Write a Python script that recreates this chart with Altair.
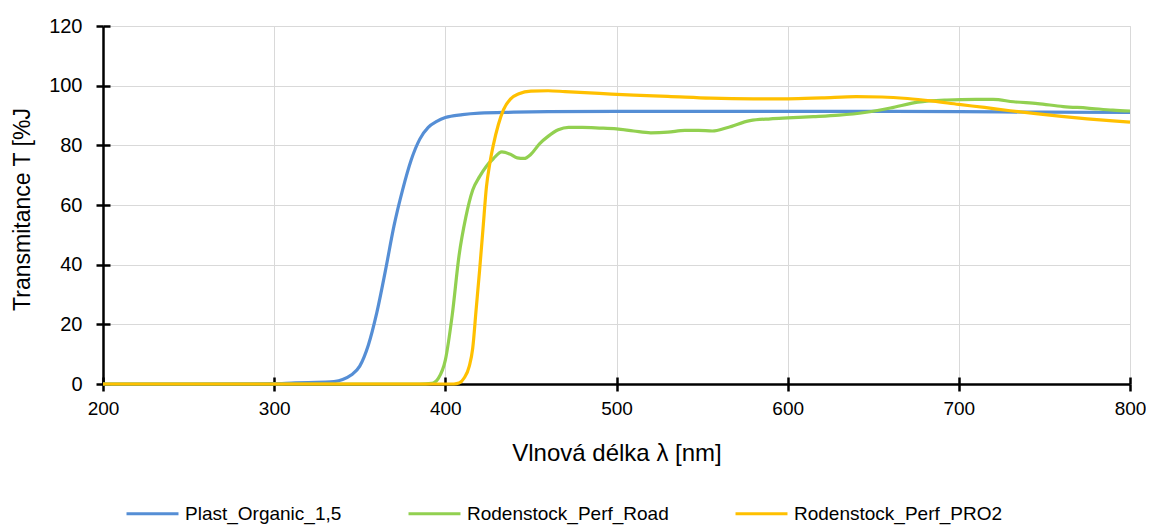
import altair as alt
import pandas as pd

series_names = ["Plast_Organic_1,5", "Rodenstock_Perf_Road", "Rodenstock_Perf_PRO2"]
series_colors = ["#558ED5", "#92D050", "#FFC000"]

blue_wl = [200, 250, 300, 310, 320, 330, 335, 340, 345, 350, 355, 360, 365, 370, 375, 380,
           385, 390, 395, 400, 410, 420, 440, 460, 500, 550, 600, 650, 700, 750, 800]
blue_T = [0, 0, 0.1, 0.3, 0.5, 0.6, 0.8, 1.5, 3, 6, 13, 24, 38, 53, 65, 75,
          82, 86, 88, 89.3, 90.3, 90.8, 91.1, 91.3, 91.4, 91.4, 91.4, 91.4, 91.3, 91.1, 91.0]

green_wl = [200, 300, 385, 392, 396, 400, 404, 408, 412, 416, 420, 424, 428, 433, 438, 442,
            446, 450, 455, 460, 466, 472, 480, 490, 500, 510, 520, 530, 540, 548, 556, 565,
            578, 590, 600, 615, 630, 645, 660, 676, 693, 710, 720, 732, 746, 761, 775, 790, 800]
green_T = [0, 0, 0, 0.2, 2, 8, 23, 43, 56, 65, 69.5, 73, 75.5, 77.8, 77, 75.8,
           75.6, 77, 80.5, 83, 85.2, 86, 86, 85.8, 85.5, 84.8, 84.2, 84.4, 85, 85, 84.8, 86,
           88.3, 88.9, 89.2, 89.6, 90.1, 91, 92.5, 94.5, 95.2, 95.4, 95.4, 94.6, 94, 93, 92.5, 91.8, 91.5]

yellow_wl = [200, 300, 400, 405, 408, 411, 414, 416, 418, 420, 422, 424, 426, 428, 431, 434,
             438, 443, 450, 460, 470, 490, 510, 530, 555, 580, 600, 620, 640, 655, 670, 685,
             700, 715, 730, 745, 760, 775, 790, 800]
yellow_T = [0, 0, 0, 0, 0.3, 2, 6, 12, 25, 38, 52, 66, 74, 80, 87, 92,
            95.5, 97.3, 98.2, 98.3, 98, 97.4, 96.8, 96.4, 95.8, 95.6, 95.6, 95.9, 96.3, 96.2, 95.7, 94.8,
            93.7, 92.7, 91.6, 90.6, 89.7, 88.9, 88.2, 87.8]

x_ticks = [200, 300, 400, 500, 600, 700, 800]
y_ticks = [0, 20, 40, 60, 80, 100, 120]

rows = []
for order, (name, wls, ts) in enumerate(zip(series_names,
                                            [blue_wl, green_wl, yellow_wl],
                                            [blue_T, green_T, yellow_T])):
    for w, t in zip(wls, ts):
        rows.append({"wl": w, "T": t, "series": name, "ord": order})
df = pd.DataFrame(rows)

FONT = "Liberation Sans"
W, H = 1027, 358

xscale = alt.Scale(domain=[200, 800], nice=False, zero=False)
yscale = alt.Scale(domain=[0, 120], nice=False)

lines = alt.Chart(df).mark_line(strokeWidth=3.2, interpolate="monotone").encode(
    x=alt.X("wl:Q", scale=xscale,
            axis=alt.Axis(values=x_ticks, title="Vlnová délka λ [nm]", grid=True,
                          gridColor="#d9d9d9", gridWidth=1, domainColor="black", domainWidth=2.5,
                          tickColor="black", tickWidth=2.5, tickSize=7, labelPadding=8,
                          labelFlush=False,
                          labelFontSize=19, labelFont=FONT, labelColor="black",
                          titleFont=FONT, titleFontSize=24, titleFontWeight="normal",
                          titleColor="black", titleX=W / 2, titleY=69, titleBaseline="middle",
                          zindex=0)),
    y=alt.Y("T:Q", scale=yscale,
            axis=alt.Axis(values=y_ticks, title="Transmitance T [%J", grid=True,
                          gridColor="#d9d9d9", gridWidth=1, domainColor="black", domainWidth=2.5,
                          tickColor="black", tickWidth=2.5, tickSize=7, labelPadding=14,
                          labelFontSize=20, labelFont=FONT, labelColor="black",
                          titleFont=FONT, titleFontSize=23, titleFontWeight="normal",
                          titleColor="black", titleX=-81, titleY=H / 2 + 4, titleAngle=-90,
                          titleAlign="center", titleBaseline="middle", zindex=0)),
    color=alt.Color("series:N",
                    scale=alt.Scale(domain=series_names, range=series_colors),
                    legend=alt.Legend(title=None, orient="none", direction="horizontal",
                                      legendX=22, legendY=460, symbolType="stroke",
                                      symbolSize=2700, symbolStrokeWidth=3, labelOffset=5,
                                      columnPadding=60, labelFont=FONT, labelFontSize=19,
                                      labelColor="black", labelLimit=400)),
    order=alt.Order("ord:Q"),
    detail="series:N",
)

inner_ticks = alt.Chart(df).mark_point(opacity=0).encode(
    x=alt.X("wl:Q", scale=xscale,
            axis=alt.Axis(values=x_ticks, orient="top", offset=-H, labels=False, domain=False,
                          grid=False, title=None, tickColor="black", tickWidth=2.5, tickSize=7,
                          zindex=0)),
    y=alt.Y("T:Q", scale=yscale,
            axis=alt.Axis(values=y_ticks, orient="right", offset=-W, labels=False, domain=False,
                          grid=False, title=None, tickColor="black", tickWidth=2.5, tickSize=7,
                          zindex=0)),
)

chart = alt.layer(lines, inner_ticks).resolve_axis(x="independent", y="independent").properties(
    width=W, height=H, autosize="none",
    padding={"left": 95, "top": 18, "right": 16, "bottom": 143},
).configure_view(stroke=None).configure(background="white")

chart.save("out.html", embed_options={"renderer": "svg", "actions": False})
